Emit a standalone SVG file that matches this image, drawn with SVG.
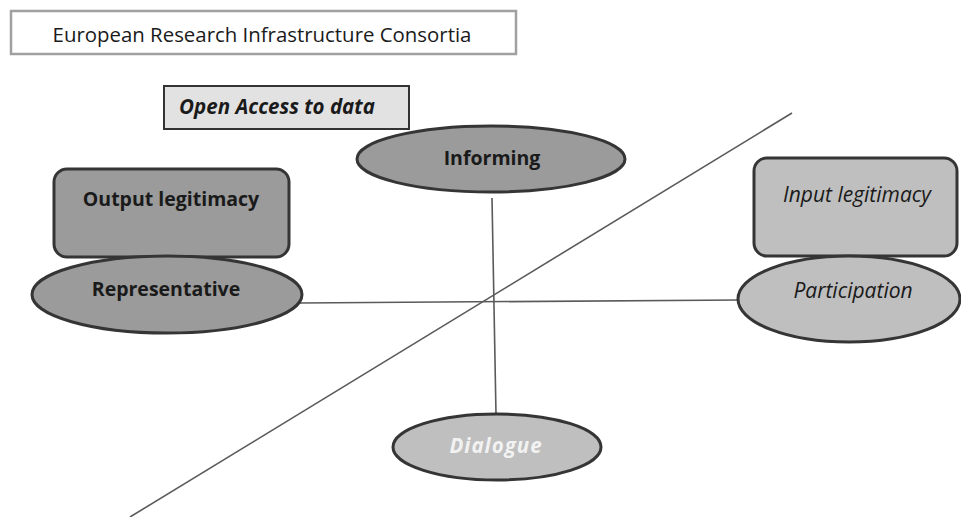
<svg xmlns="http://www.w3.org/2000/svg" width="961" height="517" viewBox="0 0 961 517">
  <style>
    text { font-family: "Open Sans", "Liberation Sans", sans-serif; fill: #1a1a1a; text-anchor: middle; }
    .dark { fill: #9b9b9b; stroke: #353535; stroke-width: 3; }
    .light { fill: #bfbfbf; stroke: #353535; stroke-width: 3; }
    .b { font-weight: bold; font-size: 19.5px; }
    .bi { font-weight: bold; font-style: italic; font-size: 20.5px; }
    .i { font-style: italic; font-size: 21px; }
    .link { stroke: #5a5a5a; stroke-width: 1.6; fill: none; }
  </style>
  <rect width="961" height="517" fill="#ffffff"/>

  <g id="title">
    <rect x="11" y="11" width="505" height="43" fill="#ffffff" stroke="#a0a0a0" stroke-width="2.5"/>
    <text x="262" y="42" font-size="20.4">European Research Infrastructure Consortia</text>
  </g>

  <g id="connectors">
    <line class="link" x1="792" y1="113" x2="130" y2="517"/>
    <line class="link" x1="492" y1="198" x2="496" y2="414"/>
    <line class="link" x1="300" y1="303" x2="740" y2="300"/>
  </g>

  <g id="open-access">
    <rect x="164" y="86" width="245" height="43" fill="#e2e2e2" stroke="#333333" stroke-width="2"/>
    <text x="277" y="114" class="bi">Open Access to data</text>
  </g>

  <g id="informing">
    <ellipse cx="491" cy="159" rx="134" ry="33" class="dark"/>
    <text x="492" y="165" class="b">Informing</text>
  </g>

  <g id="output-legitimacy">
    <rect x="54" y="169" width="235" height="88" rx="13" class="dark"/>
    <text x="171" y="206" class="b">Output legitimacy</text>
  </g>

  <g id="representative">
    <ellipse cx="167" cy="294.5" rx="135" ry="38.5" class="dark"/>
    <text x="166" y="296" class="b">Representative</text>
  </g>

  <g id="input-legitimacy">
    <rect x="754" y="158" width="203" height="98" rx="13" class="light"/>
    <text x="857" y="202" class="i">Input legitimacy</text>
  </g>

  <g id="participation">
    <ellipse cx="849" cy="299" rx="111" ry="43" class="light"/>
    <text x="853" y="298" class="i">Participation</text>
  </g>

  <g id="dialogue">
    <ellipse cx="497" cy="447" rx="104" ry="33" class="light"/>
    <text x="496" y="453" class="bi" style="fill:#f2f2f2; letter-spacing:1px">Dialogue</text>
  </g>
</svg>
